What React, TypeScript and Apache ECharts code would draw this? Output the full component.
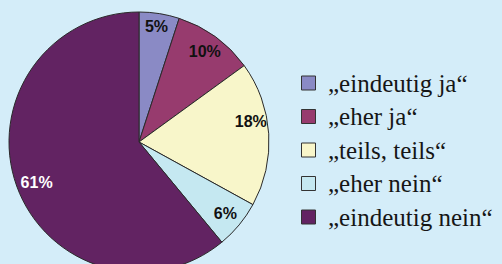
import React, { useEffect, useRef } from "react";
import * as echarts from "echarts";

const categories = ["„eindeutig ja“", "„eher ja“", "„teils, teils“", "„eher nein“", "„eindeutig nein“"];
const values = [5, 10, 18, 6, 61];
const colors = ["#8a8ac5", "#973b6e", "#f8f6ca", "#c5e8f1", "#622362"];
const labelColors = ["#111", "#111", "#111", "#111", "#ffffff"];

export default function App() {
  const ref = useRef<HTMLDivElement>(null);
  useEffect(() => {
    document.body.style.margin = "0";
    const chart = echarts.init(ref.current!, null, { renderer: "svg" });
    const data = categories.map((name, i) => ({
      name,
      value: values[i],
      itemStyle: { color: colors[i] },
    }));
    const labelData = categories.map((name, i) => ({
      name,
      value: values[i],
      label: {
        color: labelColors[i],
        offset: i === 2 ? [0, -13] : i === 0 ? [0, -5] : i === 4 ? [3, 3] : [0, 0],
      },
    }));
    const legendTop = 83;
    const legendStep = 33.5;
    const legendEls: any[] = [];
    categories.forEach((name, i) => {
      const cy = legendTop + i * legendStep;
      legendEls.push({
        type: "rect",
        shape: { x: 301.5, y: cy - 7, width: 14, height: 14 },
        style: { fill: colors[i], stroke: "#333", lineWidth: 1 },
        silent: true,
      });
      legendEls.push({
        type: "text",
        x: 328,
        y: cy,
        style: {
          text: name,
          fill: "#161616",
          fontFamily: "Liberation Serif",
          fontSize: 25,
          verticalAlign: "middle",
          align: "left",
        },
        silent: true,
      });
    });
    chart.setOption({
      animation: false,
      backgroundColor: "#d4edf9",
      graphic: legendEls,
      series: [
        {
          type: "pie",
          center: [139, 142],
          radius: [0, 130],
          startAngle: 90,
          clockwise: true,
          data,
          label: { show: false },
          labelLine: { show: false },
          itemStyle: { borderColor: "#2a2a2a", borderWidth: 1 },
          emphasis: { disabled: true },
          silent: true,
        },
        {
          type: "pie",
          center: [139, 142],
          radius: [88, 130],
          startAngle: 90,
          clockwise: true,
          data: labelData,
          itemStyle: { color: "rgba(0,0,0,0)", borderWidth: 0 },
          label: {
            show: true,
            position: "inside",
            formatter: "{c}%",
            fontFamily: "Liberation Sans",
            fontWeight: "bold",
            fontSize: 16,
          },
          labelLine: { show: false },
          emphasis: { disabled: true },
          silent: true,
        },
      ],
    });
    return () => chart.dispose();
  }, []);
  return <div ref={ref} style={{ width: 502, height: 264 }} />;
}
